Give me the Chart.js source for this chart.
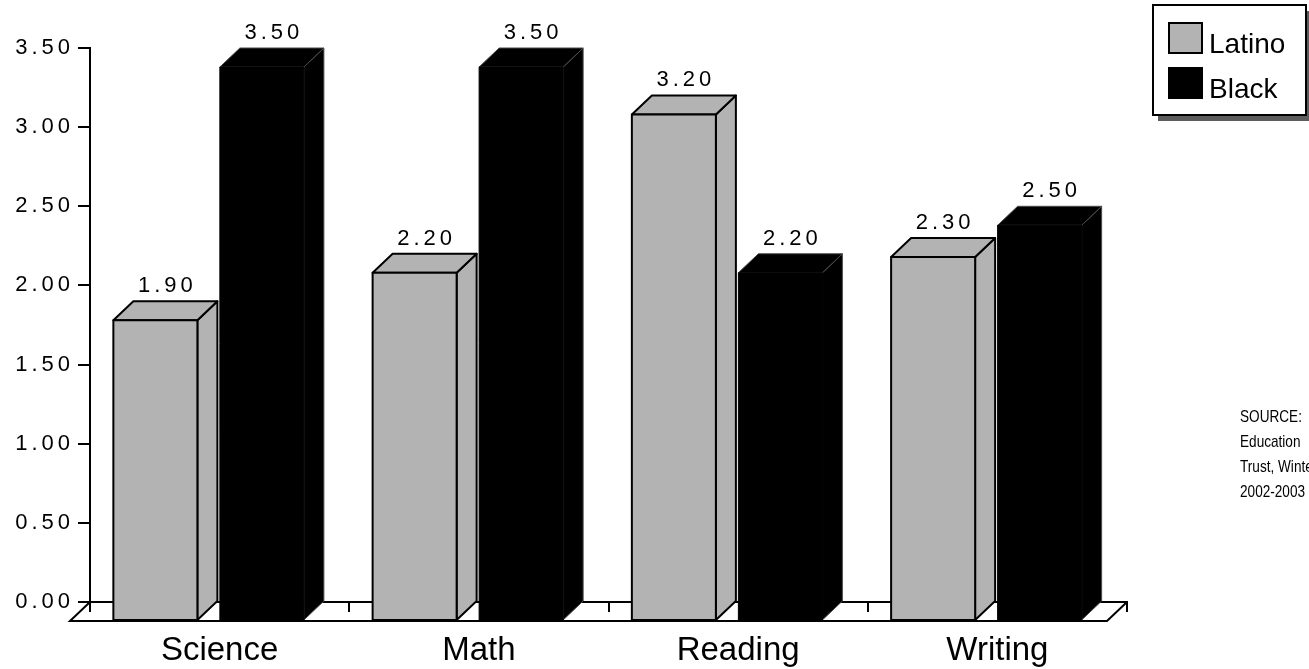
<!DOCTYPE html>
<html>
<head>
<meta charset="utf-8">
<script src="https://cdn.jsdelivr.net/npm/chart.js@4/dist/chart.umd.min.js"></script>
<style>
  html, body { margin: 0; padding: 0; background: #fff; }
  #wrap { width: 1309px; height: 669px; position: relative; }
</style>
</head>
<body>
<div id="wrap"><canvas id="chart" width="1309" height="669"></canvas></div>
<script>
// Subjects and average score per group
const categories = ['Science', 'Math', 'Reading', 'Writing'];
const latinoValues = [1.90, 2.20, 3.20, 2.30];
const blackValues = [3.50, 3.50, 2.20, 2.50];
const seriesNames = ['Latino', 'Black'];
const seriesColors = ['#b3b3b3', '#000000'];
const sourceLines = ['SOURCE:', 'Education', 'Trust, Winter', '2002-2003'];

const FONT = '"Liberation Sans", Arial, Helvetica, sans-serif';

// Box depth of the 3D bars and the floor
const DEPTH_X = 20;
const DEPTH_Y = 19;
const BACK_SHIFT = 9;

const bars3d = {
  id: 'bars3d',
  beforeDraw(chart) {
    chart.ctx.letterSpacing = '4px';
  },
  beforeDatasetDraw() {
    return false;
  },
  afterDatasetsDraw(chart) {
    const ctx = chart.ctx;
    const y0 = chart.scales.y.getPixelForValue(0);
    const left = chart.chartArea.left;
    const right = chart.chartArea.right;

    // floor of the box
    ctx.save();
    ctx.strokeStyle = '#000';
    ctx.lineWidth = 2;
    ctx.lineJoin = 'miter';
    ctx.beginPath();
    ctx.moveTo(left, y0);
    ctx.lineTo(left - DEPTH_X, y0 + DEPTH_Y);
    ctx.lineTo(right - DEPTH_X, y0 + DEPTH_Y);
    ctx.lineTo(right, y0);
    ctx.stroke();
    ctx.restore();

    const metas = chart.data.datasets.map((d, i) => chart.getDatasetMeta(i));
    for (let c = 0; c < categories.length; c++) {
      metas.forEach((meta, di) => {
        const el = meta.data[c];
        const w = el.width;
        const bx0 = el.x - w / 2 + BACK_SHIFT;
        const bx1 = bx0 + w;
        const top = el.y;
        const base = el.base;
        const fx0 = bx0 - DEPTH_X, fx1 = bx1 - DEPTH_X;
        const ftop = top + DEPTH_Y, fbase = base + DEPTH_Y;
        const fill = seriesColors[di];
        const dark = di === 1;
        ctx.save();
        ctx.lineJoin = 'round';
        ctx.fillStyle = fill;
        ctx.strokeStyle = dark ? '#4a4a4a' : '#000';
        ctx.lineWidth = dark ? 1 : 2;
        // right side
        ctx.beginPath();
        ctx.moveTo(fx1, ftop);
        ctx.lineTo(bx1, top);
        ctx.lineTo(bx1, base);
        ctx.lineTo(fx1, fbase);
        ctx.closePath();
        ctx.fill();
        ctx.stroke();
        // top
        ctx.beginPath();
        ctx.moveTo(fx0, ftop);
        ctx.lineTo(bx0, top);
        ctx.lineTo(bx1, top);
        ctx.lineTo(fx1, ftop);
        ctx.closePath();
        ctx.fill();
        ctx.stroke();
        // front
        ctx.beginPath();
        ctx.rect(fx0, ftop, w, fbase - ftop);
        ctx.fill();
        if (dark) ctx.strokeStyle = '#000';
        ctx.stroke();
        ctx.restore();

        // value label
        const v = chart.data.datasets[di].data[c];
        ctx.save();
        ctx.fillStyle = '#000';
        ctx.font = '22px ' + FONT;
        ctx.textAlign = 'center';
        ctx.textBaseline = 'alphabetic';
        ctx.fillText(v.toFixed(2), el.x + 1, top - 9);
        ctx.restore();
      });
    }
    ctx.letterSpacing = '0px';
  },
  afterDraw(chart) {
    const ctx = chart.ctx;
    ctx.save();
    ctx.letterSpacing = '0px';
    // legend frame with drop shadow
    const lx = 1153, ly = 5, lw = 153, lh = 110;
    ctx.fillStyle = '#5c5c5c';
    ctx.fillRect(lx + 5, ly + 6, lw, lh);
    ctx.fillStyle = '#fff';
    ctx.fillRect(lx, ly, lw, lh);
    ctx.strokeStyle = '#000';
    ctx.lineWidth = 2;
    ctx.strokeRect(lx, ly, lw, lh);
    ctx.font = '28px ' + FONT;
    ctx.textAlign = 'left';
    ctx.textBaseline = 'alphabetic';
    chart.data.datasets.forEach((ds, i) => {
      const sy = 23 + i * 45;
      ctx.fillStyle = ds.backgroundColor;
      ctx.fillRect(1169, sy, 33, 30);
      ctx.lineWidth = 2;
      ctx.strokeStyle = '#000';
      ctx.strokeRect(1169, sy, 33, 30);
      ctx.fillStyle = '#000';
      ctx.fillText(ds.label, 1209, sy + 30);
    });
    ctx.restore();

    // source note, set in a narrow face
    ctx.save();
    ctx.letterSpacing = '0px';
    ctx.translate(1240, 0);
    ctx.scale(0.8, 1);
    ctx.fillStyle = '#000';
    ctx.font = '17px ' + FONT;
    ctx.textAlign = 'left';
    ctx.textBaseline = 'alphabetic';
    sourceLines.forEach((t, i) => ctx.fillText(t, 0, 422 + i * 25));
    ctx.restore();
  }
};

new Chart(document.getElementById('chart'), {
  type: 'bar',
  data: {
    labels: categories,
    datasets: [
      { label: seriesNames[0], data: latinoValues, backgroundColor: seriesColors[0] },
      { label: seriesNames[1], data: blackValues, backgroundColor: seriesColors[1] }
    ]
  },
  options: {
    responsive: false,
    animation: false,
    events: [],
    categoryPercentage: 0.8216,
    barPercentage: 0.789,
    layout: { padding: { left: 0, top: 48, right: 182, bottom: 0 } },
    plugins: {
      legend: { display: false },
      tooltip: { enabled: false }
    },
    scales: {
      x: {
        afterFit: (s) => { s.height = 67; },
        grid: { offset: true, drawOnChartArea: false, drawTicks: true, tickLength: 10, color: '#000', lineWidth: 2 },
        border: { display: true, color: '#000', width: 2 },
        ticks: { z: 1, color: '#000', padding: 19, maxRotation: 0, font: { family: FONT, size: 33 } }
      },
      y: {
        min: 0,
        max: 3.5,
        afterFit: (s) => { s.width = 90; },
        grid: { drawOnChartArea: false, drawTicks: true, tickLength: 12, color: '#000', lineWidth: 2 },
        border: { display: true, color: '#000', width: 2 },
        ticks: {
          stepSize: 0.5,
          color: '#000',
          padding: 4,
          font: { family: FONT, size: 22 },
          callback: (v) => Number(v).toFixed(2)
        }
      }
    }
  },
  plugins: [bars3d]
});
</script>
</body>
</html>
